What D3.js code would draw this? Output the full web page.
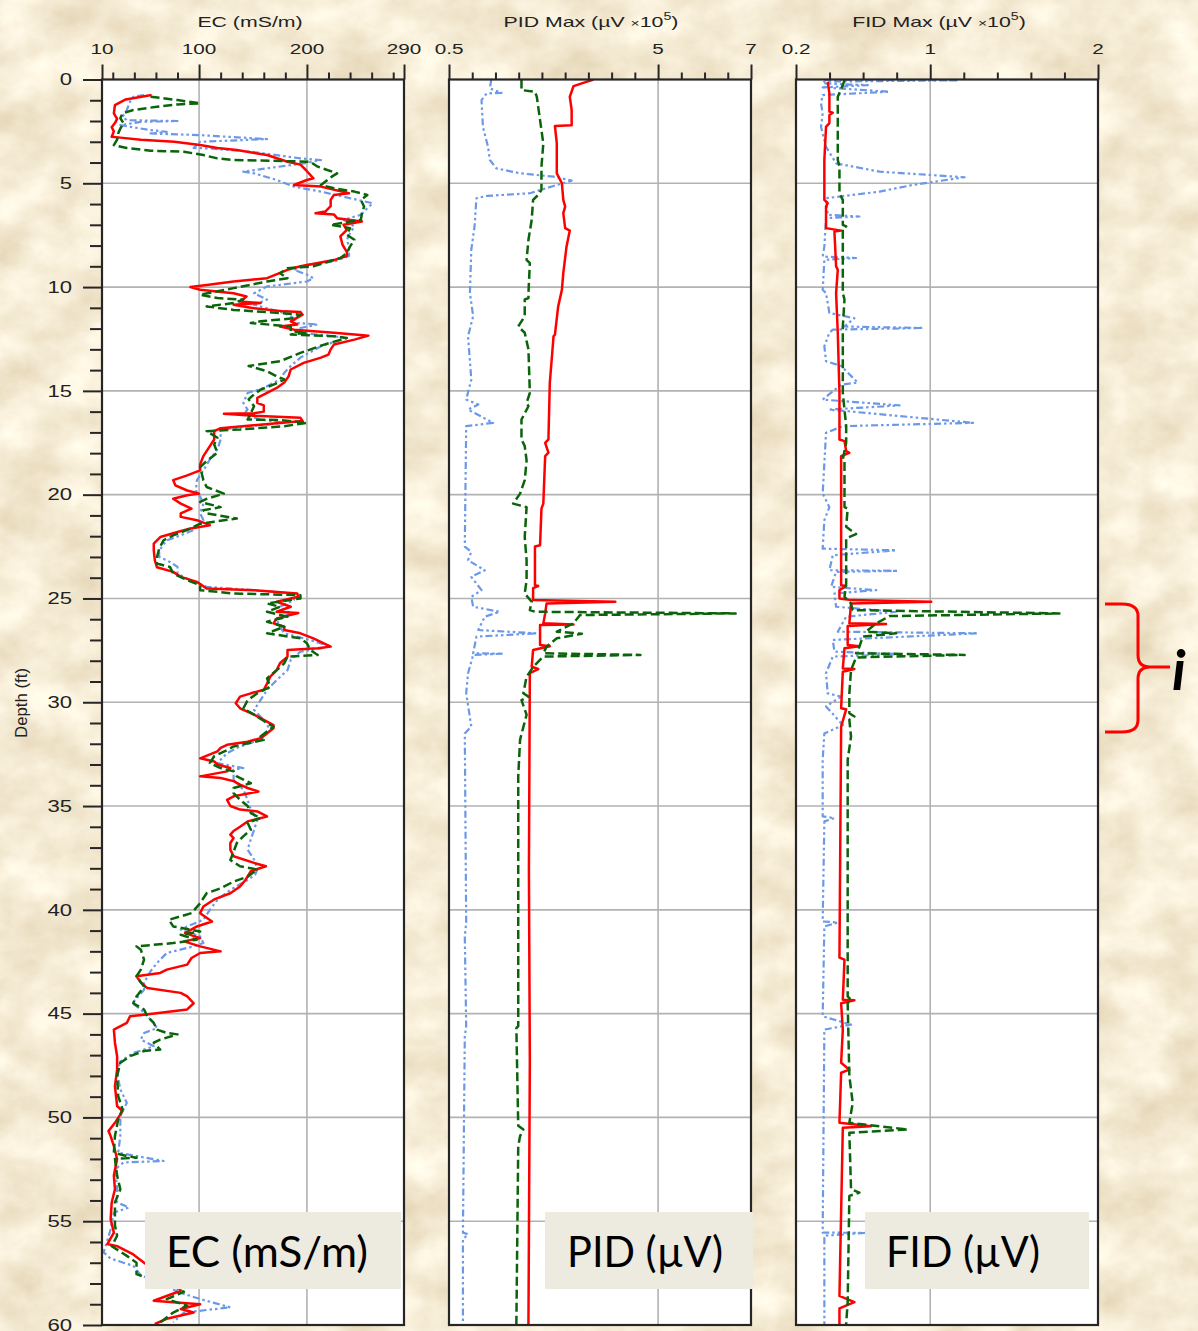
<!DOCTYPE html>
<html>
<head>
<meta charset="utf-8">
<script src="https://cdn.jsdelivr.net/npm/d3@7"></script>
<style>
  body { margin: 0; background: #e6d2a6; }
  svg { display: block; }
</style>
</head>
<body>
<div id="chart"></div>
<script>
// ---- data: [depth (ft), value] ----
var ecRed = [[0.75,56],[0.96,32],[1.23,22],[1.63,21],[1.9,24],[2.1,22],[2.3,19],[2.5,21],[2.76,19],[2.8,27],[2.9,46],[3.0,77],[3.16,101],[3.3,117],[3.4,135],[3.64,163],[3.96,182],[4.1,194],[4.36,199],[4.76,206],[4.84,200],[5.08,188],[5.16,213],[5.48,239],[5.56,225],[5.8,222],[6.1,222],[6.36,217],[6.44,208],[6.5,225],[6.68,228],[6.84,251],[7.0,234],[7.24,237],[7.56,231],[7.96,233],[8.3,237],[8.5,237],[8.7,225],[8.85,209],[9.0,194],[9.17,182],[9.57,163],[9.73,132],[9.9,107],[10.0,92],[10.13,101],[10.3,132],[10.45,144],[10.7,138],[10.77,157],[10.85,132],[11.0,148],[11.17,179],[11.2,194],[11.33,196],[11.65,185],[11.8,191],[11.9,175],[12.05,188],[12.2,225],[12.3,247],[12.34,257],[12.53,244],[12.77,225],[13.0,222],[13.25,220],[13.4,213],[13.65,197],[13.97,185],[14.3,183],[14.6,179],[14.86,172],[15.1,163],[15.34,154],[15.58,154],[15.7,160],[16.0,160],[16.08,151],[16.1,123],[16.2,151],[16.3,194],[16.45,196],[16.8,120],[16.94,114],[17.34,114],[17.66,110],[18.14,104],[18.54,101],[18.83,101],[19.07,89],[19.3,76],[19.55,78],[19.8,89],[19.95,100],[20.03,89],[20.2,76],[20.43,83],[20.67,93],[20.9,83],[21.07,83],[21.23,98],[21.47,110],[21.63,92],[21.8,80],[22.04,64],[22.36,58],[22.68,58],[23.16,59],[23.5,61],[23.72,76],[23.96,83],[24.2,98],[24.52,107],[24.6,151],[24.76,191],[24.92,192],[25.16,172],[25.4,185],[25.64,172],[25.7,192],[25.96,172],[26.2,169],[26.36,179],[26.52,179],[26.68,194],[26.92,206],[27.32,222],[27.4,210],[27.48,182],[27.8,182],[28.12,175],[28.45,172],[28.77,166],[29.1,163],[29.4,160],[29.57,148],[29.73,138],[30.05,134],[30.29,138],[30.6,151],[30.85,160],[31.1,169],[31.25,169],[31.5,163],[31.73,157],[31.9,145],[32.05,126],[32.2,120],[32.37,117],[32.7,101],[32.85,114],[33.0,117],[33.17,129],[33.33,126],[33.57,101],[33.65,120],[33.8,132],[33.97,138],[34.13,145],[34.3,155],[34.53,132],[34.7,126],[35.0,129],[35.17,138],[35.26,154],[35.5,163],[35.74,145],[36.0,138],[36.2,132],[36.38,129],[36.54,132],[36.78,129],[37.1,129],[37.42,132],[37.74,151],[37.9,162],[38.14,148],[38.56,143],[38.88,138],[39.2,129],[39.5,114],[39.84,104],[40.16,101],[40.56,112],[40.8,98],[41.12,87],[41.36,101],[41.52,86],[41.76,101],[42.0,120],[42.08,101],[42.32,93],[42.64,89],[42.88,70],[43.04,64],[43.2,42],[43.5,46],[43.77,52],[44.0,83],[44.17,89],[44.5,95],[44.8,89],[45.05,49],[45.13,36],[45.45,33],[45.77,21],[46.4,22],[47.05,24],[47.7,24],[48.5,22],[49.45,24],[49.7,29],[50.26,22],[50.66,16],[50.9,18],[51.38,21],[52.0,24],[52.8,21],[53.46,22],[54.1,19],[54.9,18],[55.55,21],[56.1,15],[56.2,24],[56.6,39],[57.0,49],[57.6,65],[58.1,80],[58.35,83],[58.83,58],[58.9,76],[59.0,101],[59.23,83],[59.4,95],[59.7,70],[59.95,59]];
var ecGreen = [[0.83,55],[0.99,80],[1.15,101],[1.2,80],[1.31,61],[1.47,39],[1.63,29],[1.87,27],[2.1,30],[2.36,27],[2.6,25],[2.9,24],[3.16,21],[3.3,33],[3.43,55],[3.48,86],[3.64,104],[3.8,117],[3.88,132],[3.9,157],[3.93,179],[3.96,203],[4.2,210],[4.52,228],[4.68,223],[5.08,213],[5.24,225],[5.4,244],[5.56,256],[5.8,250],[6.12,253],[6.44,251],[6.76,250],[7.0,222],[7.16,240],[7.48,237],[7.72,244],[8.04,240],[8.37,237],[8.6,231],[9.0,206],[9.09,182],[9.33,175],[9.57,182],[9.73,163],[10.05,132],[10.37,101],[10.53,117],[10.6,141],[10.77,132],[10.93,107],[11.1,132],[11.25,175],[11.33,194],[11.5,188],[11.65,157],[11.73,148],[11.9,185],[12.13,185],[12.2,200],[12.29,185],[12.37,225],[12.45,237],[12.77,216],[13.17,194],[13.57,175],[13.8,146],[14.05,163],[14.3,172],[14.45,179],[14.7,169],[14.94,157],[15.17,151],[15.4,146],[15.74,151],[16.06,148],[16.38,145],[16.4,175],[16.54,200],[16.7,179],[16.86,138],[16.94,107],[17.26,117],[17.58,114],[17.98,117],[18.38,107],[18.67,101],[19.3,104],[19.63,107],[19.95,123],[20.2,107],[20.35,101],[20.6,120],[20.75,104],[20.9,107],[21.15,135],[21.3,114],[21.4,101],[21.7,89],[21.96,76],[22.2,67],[22.6,63],[23.0,61],[23.32,61],[23.48,73],[23.8,76],[24.12,89],[24.36,101],[24.6,101],[24.76,132],[24.84,194],[25.0,194],[25.24,163],[25.4,175],[25.64,163],[25.88,182],[26.12,163],[26.36,179],[26.68,163],[26.92,194],[27.16,200],[27.48,203],[27.72,210],[27.8,182],[28.12,179],[28.45,172],[28.85,163],[29.25,166],[29.57,154],[29.9,145],[30.3,141],[30.6,151],[31.0,163],[31.17,169],[31.65,157],[31.81,160],[32.13,132],[32.3,126],[32.6,114],[32.93,110],[33.17,120],[33.33,132],[33.57,135],[33.9,148],[34.13,132],[34.38,132],[34.7,138],[35.0,145],[35.34,148],[35.58,157],[35.8,145],[36.14,148],[36.46,141],[36.78,135],[37.2,132],[37.6,129],[37.9,138],[38.06,154],[38.4,145],[38.64,132],[38.96,120],[39.2,107],[39.68,101],[40.16,93],[40.48,72],[40.8,76],[41.04,101],[41.2,83],[41.44,98],[41.6,76],[41.76,42],[41.92,46],[42.4,49],[42.88,46],[43.2,42],[43.7,49],[44.17,42],[44.5,39],[44.8,49],[45.13,52],[45.45,58],[45.77,61],[45.93,70],[46.0,80],[46.25,64],[46.4,58],[46.73,64],[46.8,49],[47.05,36],[47.37,27],[48.0,24],[48.97,25],[49.6,29],[50.1,25],[50.9,22],[51.7,21],[51.86,33],[51.94,42],[52.0,22],[52.8,24],[53.46,27],[54.1,22],[55.2,22],[55.7,24],[56.2,19],[56.67,33],[57.0,42],[57.55,42],[57.7,50],[58.1,75],[58.4,86],[58.75,70],[59.07,89],[59.4,76],[59.87,64]];
var ecBlue = [[0.75,49],[0.83,39],[1.07,36],[1.47,33],[1.8,29],[1.96,33],[2.0,80],[2.04,46],[2.2,27],[2.44,55],[2.52,70],[2.6,55],[2.68,101],[2.87,163],[3.0,101],[3.3,95],[3.32,110],[3.48,148],[3.64,172],[3.8,194],[3.88,213],[4.04,197],[4.28,163],[4.44,141],[4.52,151],[4.84,172],[5.16,188],[5.4,213],[5.72,240],[5.96,261],[6.2,256],[6.52,250],[6.76,234],[7.08,244],[7.4,240],[7.72,237],[8.04,239],[8.5,239],[8.77,225],[8.93,200],[9.17,188],[9.4,200],[9.57,206],[9.73,200],[9.97,163],[10.3,151],[10.45,157],[10.6,163],[10.85,151],[11.25,179],[11.5,188],[11.73,191],[11.8,210],[11.97,194],[12.2,194],[12.37,225],[12.45,237],[12.85,213],[13.4,194],[13.8,185],[14.13,179],[14.45,175],[14.86,160],[15.1,145],[15.58,141],[15.9,145],[16.14,141],[16.38,157],[16.54,179],[16.7,148],[16.86,120],[17.34,120],[17.82,117],[18.3,110],[18.83,104],[19.3,98],[19.8,97],[20.1,101],[20.43,104],[20.9,101],[21.23,104],[21.7,95],[21.96,83],[22.2,70],[22.68,63],[23.0,63],[23.24,73],[23.48,80],[23.8,80],[24.12,92],[24.44,107],[24.6,151],[24.76,188],[25.08,188],[25.4,175],[25.72,185],[26.04,172],[26.36,175],[26.68,179],[27.0,203],[27.32,222],[27.56,194],[27.96,185],[28.45,182],[28.93,172],[29.4,163],[29.9,157],[30.37,151],[30.85,160],[31.33,166],[31.81,157],[32.13,138],[32.45,126],[32.93,117],[33.17,141],[33.25,132],[33.73,132],[34.2,141],[34.7,145],[35.17,148],[35.66,154],[36.14,151],[36.6,148],[37.1,145],[37.58,151],[38.06,154],[38.3,152],[38.56,145],[39.04,129],[39.52,117],[40.0,110],[40.48,104],[40.8,89],[40.96,83],[41.28,101],[41.6,104],[41.76,95],[42.08,70],[42.56,61],[42.96,55],[43.5,49],[43.85,49],[44.5,38],[44.8,46],[45.13,52],[45.45,58],[45.7,61],[45.93,49],[46.25,46],[46.57,58],[46.9,39],[47.3,27],[47.85,24],[48.65,27],[49.3,33],[49.94,27],[50.9,27],[51.7,25],[52.1,67],[52.17,30],[52.5,22],[53.3,24],[54.1,24],[54.34,35],[54.58,21],[55.4,18],[56.5,11.5],[56.8,18],[57.15,39],[57.6,46],[58.0,65],[58.4,80],[58.75,101],[59.15,129],[59.4,86],[59.87,76]];

var pidRed = [[0,3.61],[0.16,3.39],[0.32,3.18],[0.83,3.1],[1.47,3.14],[2.2,3.14],[2.24,2.78],[3.08,2.82],[4.52,2.82],[5.0,2.93],[5.8,2.96],[6.12,3.0],[6.44,2.96],[7.16,3.0],[7.28,3.1],[8.04,3.03],[9.33,2.96],[10.13,2.93],[10.93,2.85],[12.29,2.78],[12.37,2.75],[13.5,2.71],[14.6,2.67],[17.34,2.64],[17.5,2.57],[17.98,2.64],[18.14,2.57],[20.43,2.53],[20.67,2.49],[22.44,2.46],[22.5,2.35],[24.36,2.35],[24.4,2.42],[24.5,2.31],[25.08,2.31],[25.16,4.08],[25.24,2.6],[25.72,2.57],[26.2,2.53],[26.25,3.18],[26.28,2.46],[27.24,2.46],[27.3,2.67],[27.48,2.31],[28.29,2.28],[28.4,2.42],[28.6,2.24],[38.1,2.22],[47.3,2.24],[59.95,2.21]];
var pidGreen = [[0,2.06],[0.51,2.06],[0.59,2.35],[0.83,2.39],[1.96,2.46],[3.08,2.53],[4.2,2.49],[5.32,2.49],[5.56,2.42],[5.8,2.31],[6.76,2.28],[7.72,2.21],[8.69,2.17],[8.85,2.24],[10.29,2.21],[10.53,2.21],[10.6,2.13],[11.4,2.13],[11.9,1.99],[12.2,2.13],[13.0,2.21],[15.1,2.24],[15.58,2.17],[15.74,2.21],[16.38,2.06],[17.34,2.06],[17.66,2.13],[18.35,2.17],[19.3,2.13],[19.95,2.03],[20.43,1.88],[20.6,2.17],[22.04,2.13],[23.16,2.17],[24.12,2.17],[24.76,2.13],[25.16,2.28],[25.56,2.24],[25.64,2.35],[25.72,6.67],[25.8,3.32],[26.2,3.18],[26.6,2.82],[26.7,3.36],[26.92,2.82],[27.32,2.6],[27.64,2.53],[27.72,4.62],[27.8,2.53],[28.3,2.31],[28.77,2.17],[29.57,2.1],[29.73,2.21],[29.9,2.06],[30.6,2.17],[31.8,2.03],[33.57,1.99],[45.6,1.99],[45.7,1.95],[50.4,1.99],[50.58,2.1],[50.9,2.03],[51.38,1.99],[59.95,1.95]];
var pidBlue = [[0,1.41],[0.43,1.38],[0.64,1.63],[0.67,1.31],[0.99,1.2],[2.28,1.23],[3.24,1.34],[3.88,1.38],[4.28,1.52],[4.52,2.03],[4.68,2.75],[4.87,3.14],[5.13,2.75],[5.48,2.24],[5.61,1.31],[5.72,1.09],[7.08,1.05],[8.2,0.98],[10.29,0.95],[11.4,1.02],[12.37,0.91],[14.45,0.98],[15.42,0.87],[15.66,1.13],[15.9,0.91],[16.54,1.45],[16.7,0.87],[22.5,0.84],[22.76,0.98],[23.16,0.91],[23.64,1.27],[23.96,0.98],[24.6,1.2],[24.92,0.98],[25.4,1.02],[25.64,1.59],[25.88,1.27],[26.52,1.13],[26.68,2.39],[26.84,1.09],[27.64,1.02],[27.66,1.66],[27.72,1.02],[28.6,0.91],[29.57,0.87],[31.17,0.98],[31.5,0.84],[40.64,0.87],[41.28,0.84],[45.6,0.87],[46.1,0.84],[55.55,0.8],[55.63,0.91],[55.87,0.8],[59.95,0.8]];

var fidRed = [[0.11,0.389],[0.67,0.399],[1.55,0.399],[1.6,0.419],[1.71,0.399],[2.1,0.399],[2.28,0.379],[3.88,0.369],[5.8,0.369],[5.96,0.389],[6.12,0.379],[7.16,0.379],[7.28,0.469],[7.32,0.429],[9.0,0.439],[9.17,0.449],[10.29,0.439],[12.2,0.449],[15.1,0.459],[17.34,0.459],[17.42,0.489],[17.9,0.499],[17.98,0.518],[18.14,0.469],[24.36,0.469],[24.4,0.499],[24.6,0.459],[25.0,0.459],[25.08,0.528],[25.16,1.006],[25.24,0.528],[26.2,0.518],[26.23,0.737],[26.33,0.508],[27.24,0.508],[27.3,0.578],[27.4,0.489],[28.37,0.479],[28.4,0.548],[28.53,0.479],[30.29,0.469],[30.34,0.499],[31.17,0.469],[42.3,0.459],[42.4,0.489],[44.33,0.479],[44.36,0.548],[44.5,0.469],[45.77,0.479],[47.37,0.469],[47.7,0.518],[47.85,0.469],[50.26,0.459],[50.42,0.648],[50.5,0.479],[58.6,0.459],[58.9,0.548],[59.2,0.459],[59.95,0.459]];
var fidGreen = [[0.03,0.489],[0.27,0.479],[0.83,0.449],[3.88,0.449],[4.2,0.459],[5.48,0.459],[5.8,0.479],[7.0,0.479],[7.08,0.499],[7.16,0.479],[10.29,0.479],[10.6,0.489],[11.9,0.479],[15.1,0.479],[16.7,0.499],[17.5,0.499],[18.3,0.479],[18.35,0.489],[20.6,0.489],[20.67,0.508],[21.55,0.499],[21.9,0.558],[22.1,0.499],[24.28,0.499],[24.92,0.489],[25.24,0.528],[25.56,0.538],[25.72,1.77],[25.85,0.757],[26.2,0.678],[26.6,0.618],[26.68,0.797],[26.84,0.598],[27.32,0.578],[27.64,0.558],[27.72,1.205],[27.84,0.558],[28.45,0.528],[29.57,0.518],[30.53,0.518],[30.69,0.548],[30.85,0.518],[31.65,0.528],[32.77,0.508],[44.17,0.508],[44.33,0.528],[44.5,0.508],[48.0,0.518],[49.3,0.538],[50.26,0.518],[50.58,0.867],[50.74,0.518],[53.46,0.528],[53.62,0.578],[53.78,0.518],[58.9,0.508],[59.95,0.499]];
var fidBlue = [[0.02,0.369],[0.04,1.17],[0.1,0.369],[0.19,0.359],[0.27,0.628],[0.38,0.359],[0.59,0.757],[0.75,0.359],[1.15,0.349],[1.63,0.359],[2.28,0.349],[3.24,0.379],[4.04,0.439],[4.44,0.698],[4.71,1.205],[5.08,0.896],[5.4,0.698],[5.64,0.459],[5.72,0.379],[6.52,0.389],[6.6,0.578],[6.68,0.379],[8.04,0.369],[8.53,0.359],[8.6,0.558],[8.69,0.369],[10.13,0.359],[10.29,0.379],[11.25,0.399],[11.5,0.548],[11.9,0.489],[11.97,0.956],[12.05,0.42],[12.2,0.399],[12.85,0.369],[13.57,0.379],[13.8,0.469],[14.6,0.568],[14.7,0.469],[15.42,0.359],[15.7,0.817],[15.9,0.399],[16.54,1.255],[16.7,0.479],[17.02,0.379],[19.95,0.359],[20.6,0.399],[21.23,0.369],[22.6,0.359],[22.68,0.797],[22.92,0.419],[23.64,0.399],[23.67,0.807],[23.72,0.439],[24.44,0.409],[24.6,0.678],[24.76,0.429],[25.4,0.439],[25.64,0.797],[25.88,0.499],[26.6,0.449],[26.68,1.285],[27.0,0.419],[27.56,0.429],[27.68,0.817],[27.8,0.419],[28.6,0.379],[29.57,0.389],[29.73,0.469],[30.2,0.379],[31.1,0.479],[31.5,0.369],[32.77,0.359],[35.5,0.359],[35.58,0.429],[35.74,0.369],[40.56,0.359],[40.61,0.449],[40.8,0.369],[45.13,0.359],[45.53,0.528],[45.77,0.369],[55.55,0.359],[55.56,0.608],[55.7,0.369],[59.95,0.369]];

// ticks
var depthMajor = d3.range(0, 61, 5);
var depthMinor = d3.range(0, 61, 1).filter(function(d){ return d % 5 !== 0; });
var depthGrid = d3.range(5, 60, 5);
var ecMajor = [10, 100, 200, 290], ecMinor = [20,40,60,80,120,140,160,180,220,240,260,280], ecGrid = [100, 200];
var pidMajor = [0.5, 5, 7], pidMinor = [1,1.5,2,2.5,3,3.5,4,4.5,5.5,6,6.5], pidGrid = [5];
var fidMajor = [0.2, 1, 2], fidMinor = [0.4,0.6,0.8,1.2,1.4,1.6,1.8], fidGrid = [1];
var boxLabels = ["EC (mS/m)", "PID (\u00b5V)", "FID (\u00b5V)"];

// ---- layout ----
var W = 1198, H = 1331;
var plotTop = 79.5, plotBottom = 1325;
var seriesStyle = [
  {color: "#6c98e8", width: 2.2, dash: "7,3,2.5,3,2.5,3"},
  {color: "#ff0000", width: 2.5, dash: null},
  {color: "#0a640a", width: 2.5, dash: "9,4"}
];

var panels = [
  {left: 102, right: 404, domain: [10, 290], major: ecMajor, minor: ecMinor, grid: ecGrid,
   series: [ecBlue, ecRed, ecGreen], titleX: 250, box: [145, 401, 166, 202], label: boxLabels[0]},
  {left: 449, right: 751, domain: [0.5, 7], major: pidMajor, minor: pidMinor, grid: pidGrid,
   series: [pidBlue, pidRed, pidGreen], titleX: 591, title: "PID", box: [545, 753, 567, 156], label: boxLabels[1]},
  {left: 796, right: 1098, domain: [0.2, 2], major: fidMajor, minor: fidMinor, grid: fidGrid,
   series: [fidBlue, fidRed, fidGreen], titleX: 939, title: "FID", box: [865, 1089, 886, 154], label: boxLabels[2]}
];

var svg = d3.select("#chart").append("svg")
  .attr("width", W).attr("height", H);

// parchment background
var defs = svg.append("defs");
var flt = defs.append("filter").attr("id", "paper")
  .attr("x", 0).attr("y", 0).attr("width", "100%").attr("height", "100%");
flt.append("feTurbulence").attr("type", "fractalNoise")
  .attr("baseFrequency", "0.018 0.022").attr("numOctaves", 7).attr("seed", 11);
flt.append("feColorMatrix").attr("type", "matrix")
  .attr("values", "0.36 0 0 0 0.735  0.44 0 0 0 0.615  0.52 0 0 0 0.405  0 0 0 0 1");
svg.append("rect").attr("width", W).attr("height", H).attr("filter", "url(#paper)");

var y = d3.scaleLinear().domain([0, 60]).range([plotTop, plotBottom]);

var font = "'Liberation Sans', Arial, sans-serif";

panels.forEach(function(p, i) {
  var x = d3.scaleLinear().domain(p.domain).range([p.left, p.right]);
  var g = svg.append("g");

  g.append("rect")
    .attr("x", p.left).attr("y", plotTop)
    .attr("width", p.right - p.left).attr("height", plotBottom - plotTop)
    .attr("fill", "#fff");

  // grid
  g.append("g").selectAll("line").data(depthGrid).join("line")
    .attr("x1", p.left).attr("x2", p.right)
    .attr("y1", function(d){ return y(d); }).attr("y2", function(d){ return y(d); })
    .attr("stroke", "#b2b2b2").attr("stroke-width", 1.6);
  g.append("g").selectAll("line").data(p.grid).join("line")
    .attr("x1", function(d){ return x(d); }).attr("x2", function(d){ return x(d); })
    .attr("y1", plotTop).attr("y2", plotBottom)
    .attr("stroke", "#b2b2b2").attr("stroke-width", 1.6);

  // curves
  defs.append("clipPath").attr("id", "clip" + i)
    .append("rect").attr("x", p.left).attr("y", plotTop)
    .attr("width", p.right - p.left).attr("height", plotBottom - plotTop);
  var line = d3.line()
    .x(function(d){ return x(d[1]); })
    .y(function(d){ return y(d[0]); });
  var lg = g.append("g").attr("clip-path", "url(#clip" + i + ")");
  p.series.forEach(function(s, k) {
    var st = seriesStyle[k];
    lg.append("path").datum(s)
      .attr("d", line)
      .attr("fill", "none")
      .attr("stroke", st.color)
      .attr("stroke-width", st.width)
      .attr("stroke-dasharray", st.dash)
      .attr("stroke-linejoin", "round");
  });

  // frame
  g.append("rect")
    .attr("x", p.left).attr("y", plotTop)
    .attr("width", p.right - p.left).attr("height", plotBottom - plotTop)
    .attr("fill", "none").attr("stroke", "#262626").attr("stroke-width", 2.2);

  // top axis ticks
  var minorAx = g.append("g").attr("transform", "translate(0," + plotTop + ")")
    .call(d3.axisTop(x).tickValues(p.minor).tickSize(7).tickFormat(""));
  var majorAx = g.append("g").attr("transform", "translate(0," + plotTop + ")")
    .call(d3.axisTop(x).tickValues(p.major).tickSize(15).tickFormat(""));
  [minorAx, majorAx].forEach(function(a){
    a.select(".domain").remove();
    a.selectAll("line").attr("stroke", "#262626").attr("stroke-width", 2);
  });

  // tick labels
  g.append("g").selectAll("g").data(p.major).join("g")
    .attr("transform", function(d){ return "translate(" + x(d) + ",54) scale(1.38,1)"; })
    .append("text")
    .attr("text-anchor", "middle")
    .attr("font-family", font).attr("font-size", 15).attr("fill", "#222")
    .text(function(d){ return String(d); });

  // title
  var tt = g.append("g")
    .attr("transform", "translate(" + p.titleX + ",27) scale(1.42,1)")
    .append("text")
    .attr("text-anchor", "middle")
    .attr("font-family", font).attr("font-size", 15).attr("fill", "#222");
  if (!p.title) {
    tt.text("EC (mS/m)");
  } else {
    tt.append("tspan").text(p.title + " Max (\u00b5V ");
    tt.append("tspan").attr("font-size", 11).text("\u00d7");
    tt.append("tspan").text("10");
    tt.append("tspan").attr("font-size", 10).attr("dy", -7).text("5");
    tt.append("tspan").attr("dy", 7).text(")");
  }
});

// depth axis on the first panel
var yMinor = svg.append("g").attr("transform", "translate(" + panels[0].left + ",0)")
  .call(d3.axisLeft(y).tickValues(depthMinor).tickSize(12).tickFormat(""));
var yMajor = svg.append("g").attr("transform", "translate(" + panels[0].left + ",0)")
  .call(d3.axisLeft(y).tickValues(depthMajor).tickSize(19).tickFormat(""));
[yMinor, yMajor].forEach(function(a){
  a.select(".domain").remove();
  a.selectAll("line").attr("stroke", "#262626").attr("stroke-width", 2);
});
svg.append("g").selectAll("g").data(depthMajor).join("g")
  .attr("transform", function(d){ return "translate(72," + y(d) + ") scale(1.38,1)"; })
  .append("text")
  .attr("text-anchor", "end").attr("dy", "0.36em")
  .attr("font-family", font).attr("font-size", 16).attr("fill", "#222")
  .text(function(d){ return d; });

svg.append("g")
  .attr("transform", "translate(27,703) rotate(-90) scale(1.05,1)")
  .append("text")
  .attr("text-anchor", "middle")
  .attr("font-family", font).attr("font-size", 16).attr("fill", "#222")
  .text("Depth (ft)");

// label boxes at the bottom of each track
panels.forEach(function(p) {
  var b = p.box;
  svg.append("rect")
    .attr("x", b[0]).attr("y", 1212)
    .attr("width", b[1] - b[0]).attr("height", 77)
    .attr("fill", "#edeae0");
  svg.append("text")
    .attr("x", b[2]).attr("y", 1267)
    .attr("textLength", b[3]).attr("lengthAdjust", "spacingAndGlyphs")
    .attr("font-family", "Lato, 'Noto Sans', sans-serif").attr("font-size", 42)
    .attr("fill", "#000")
    .text(p.label);
});

// bracket marking interval i
svg.append("path")
  .attr("d", "M1105,604 L1122,604 Q1138,604 1138,616 L1138,655 Q1138,667 1150,667 L1170,667" +
             " M1150,667 Q1138,667 1138,679 L1138,720 Q1138,732 1122,732 L1105,732")
  .attr("fill", "none").attr("stroke", "#ff0000").attr("stroke-width", 3);
svg.append("text")
  .attr("x", 1172).attr("y", 690)
  .attr("font-family", "Lato, 'Liberation Sans', sans-serif")
  .attr("font-weight", "bold").attr("font-style", "italic")
  .attr("font-size", 56).attr("fill", "#000")
  .text("i");
</script>
</body>
</html>
